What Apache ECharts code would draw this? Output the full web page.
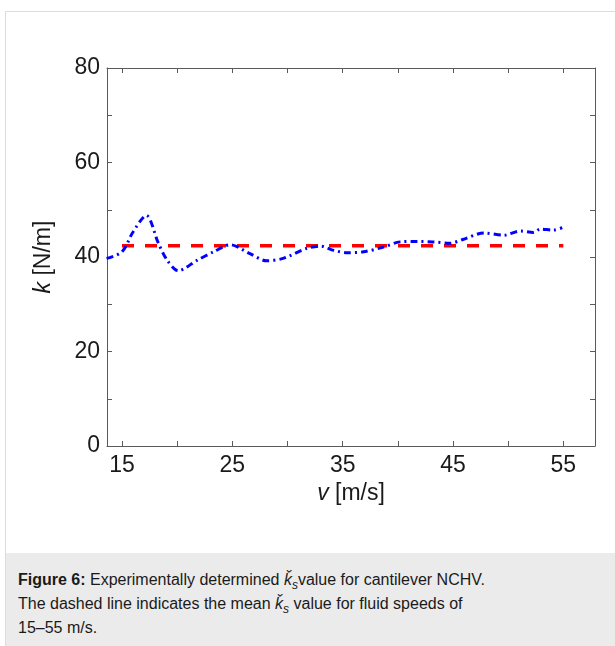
<!DOCTYPE html>
<html>
<head>
<meta charset="utf-8">
<script src="https://cdn.jsdelivr.net/npm/echarts@6/dist/echarts.min.js"></script>
<style>
  html, body { margin: 0; padding: 0; background: #fff; }
  #wrap { position: relative; width: 615px; height: 646px; overflow: hidden; }
  #frame { position: absolute; left: 5px; top: 11px; width: 620px; height: 640px;
           border-left: 1px solid #dcdcdc; border-top: 1px solid #dcdcdc; }
  #cap { position: absolute; left: 6px; top: 553px; width: 609px; height: 93px; background: #ebebeb;
         font-family: "Liberation Sans", Arial, sans-serif; font-size: 16px; line-height: 24px; color: #1a1a1a;
         box-sizing: border-box; padding: 15px 0 0 12px; }
  #cap sub { font-size: 12px; vertical-align: -4px; line-height: 0; }
  #chart { position: absolute; left: 0; top: 0; width: 615px; height: 553px; }
</style>
</head>
<body>
<div id="wrap">
  <div id="frame"></div>
  <div id="cap"><b>Figure 6:</b> Experimentally determined <i>ǩ</i><sub><i>s</i></sub>value for cantilever NCHV.<br>The dashed line indicates the mean <i>ǩ</i><sub><i>s</i></sub> value for fluid speeds of<br>15–55 m/s.</div>
  <div id="chart"></div>
</div>
<script>
// measured data: fluid speed v [m/s] vs stiffness k [N/m]
var vData = [13.6, 15, 16, 17.2, 18.3, 19.1, 20.1, 21.8, 23.3, 24.8, 26.6, 28.1, 29.6, 31.7, 33.0, 34.2, 35.4, 36.9, 38.7, 40.2, 41.7, 43.2, 44.7, 45.9, 47.8, 49.6, 51.1, 52.3, 52.9, 54.1, 54.9];
var kData = [39.7, 41.1, 45.3, 48.8, 42.9, 39.3, 37.1, 39.3, 41.1, 42.6, 40.7, 39.2, 39.7, 41.8, 42.3, 41.4, 40.9, 41.1, 42.1, 43.2, 43.3, 43.2, 42.9, 43.7, 45.1, 44.6, 45.5, 45.2, 45.9, 45.7, 46.2];
// mean value line
var meanV = [15, 55];
var meanK = [42.4, 42.4];
// ticks
var xTicks = [15, 20, 25, 30, 35, 40, 45, 50, 55];
var xLabels = [15, 25, 35, 45, 55];
var yTicks = [0, 10, 20, 30, 40, 50, 60, 70, 80];
var yLabels = [0, 20, 40, 60, 80];
var xMin = 13.64, xMax = 57.87, yMin = 0, yMax = 80;

var chart = echarts.init(document.getElementById('chart'), null, { renderer: 'canvas' });
var axisColor = '#5a5a5a';
var font = '"Liberation Sans", Arial, sans-serif';
function pairs(a, b) { return a.map(function (v, i) { return [v, b[i]]; }); }

var baseX = {
  type: 'value', min: xMin, max: xMax,
  axisLine: { show: true, onZero: false, lineStyle: { color: axisColor, width: 1 } },
  axisTick: { show: true, inside: true, length: 5, customValues: xTicks, lineStyle: { color: axisColor } },
  splitLine: { show: false }
};
var baseY = {
  type: 'value', min: yMin, max: yMax,
  axisLine: { show: true, onZero: false, lineStyle: { color: axisColor, width: 1 } },
  axisTick: { show: true, inside: true, length: 5, customValues: yTicks, lineStyle: { color: axisColor } },
  splitLine: { show: false }
};

chart.setOption({
  animation: false,
  backgroundColor: 'transparent',
  grid: { left: 107, top: 68, width: 488, height: 378, containLabel: false },
  xAxis: [
    Object.assign({}, baseX, {
      position: 'bottom',
      axisLabel: { show: true, customValues: xLabels, color: '#1a1a1a', fontSize: 23, fontFamily: font, margin: 8 },
      name: '{i|v} [m/s]', nameLocation: 'middle', nameGap: 34,
      nameTextStyle: { color: '#1a1a1a', fontSize: 23, fontFamily: font,
        rich: { i: { fontStyle: 'italic', fontSize: 23, fontFamily: font, color: '#1a1a1a' } } }
    }),
    Object.assign({}, baseX, { position: 'top', axisLabel: { show: false } })
  ],
  yAxis: [
    Object.assign({}, baseY, {
      position: 'left',
      axisLabel: { show: true, customValues: yLabels, color: '#1a1a1a', fontSize: 23, fontFamily: font, margin: 7 },
      name: '{i|k} [N/m]', nameLocation: 'middle', nameGap: 52,
      nameTextStyle: { color: '#1a1a1a', fontSize: 23, fontFamily: font,
        rich: { i: { fontStyle: 'italic', fontSize: 23, fontFamily: font, color: '#1a1a1a' } } }
    }),
    Object.assign({}, baseY, { position: 'right', axisLabel: { show: false } })
  ],
  series: [
    {
      type: 'line', xAxisIndex: 0, yAxisIndex: 0,
      data: pairs(meanV, meanK), showSymbol: false, symbol: 'none',
      lineStyle: { color: '#ff0000', width: 3.5, type: [12, 11] }
    },
    {
      type: 'line', xAxisIndex: 0, yAxisIndex: 0,
      data: pairs(vData, kData), showSymbol: false, symbol: 'none', smooth: 0.3,
      lineStyle: { color: '#0000ff', width: 3, type: [7, 4, 2, 4] }
    }
  ]
});
</script>
</body>
</html>
